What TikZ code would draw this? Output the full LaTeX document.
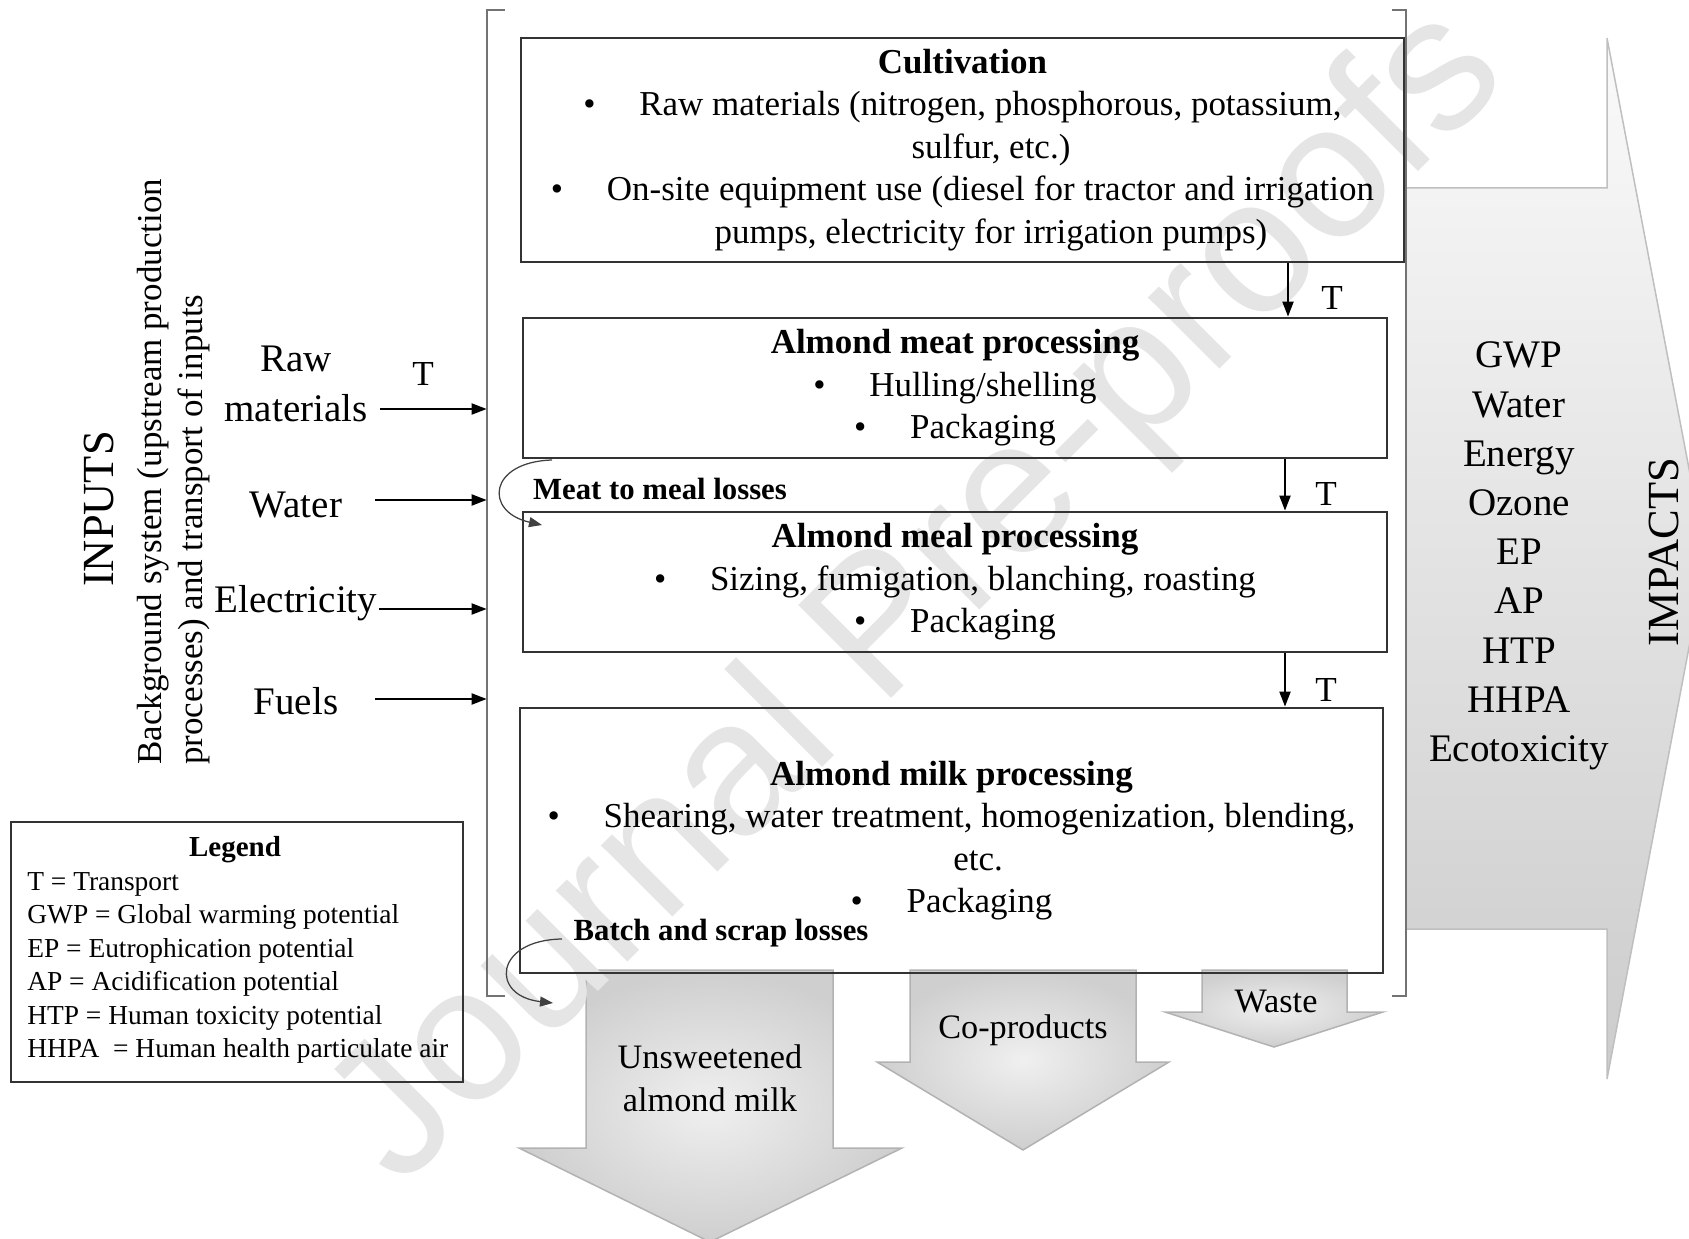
\documentclass[tikz,border=0pt]{standalone}
\usepackage{fontspec}
\setmainfont{Liberation Serif}
\newfontfamily\wmfont{Liberation Sans}
\usetikzlibrary{arrows.meta,positioning,fit}

\newcommand{\bul}{\textbullet\hspace{1.25em}}

\begin{document}
\begin{tikzpicture}[
    x=0.2mm, y=-0.2mm,
    procbox/.style={
        draw=black!80, line width=0.55mm,
        inner sep=0pt, align=center,
        font=\fontsize{19.9}{24.2}\selectfont
    },
    flow/.style={draw=black, line width=0.4mm, -{Triangle[length=3mm,width=2.2mm]}},
    lossflow/.style={draw=black!75, line width=0.25mm, -{Triangle[length=2.6mm,width=2mm]}},
    outarrow/.style={draw=black!30, line width=0.3mm, inner color=black!6, outer color=black!19},
    frame/.style={draw=black!55, line width=0.4mm},
    bigtext/.style={font=\fontsize{22.2}{28}\selectfont, align=center},
    outtext/.style={font=\fontsize{19.5}{24.4}\selectfont, align=center},
    tlabel/.style={font=\fontsize{20}{24}\selectfont},
    losslabel/.style={font=\fontsize{17.5}{21}\selectfont\bfseries},
    headtext/.style={font=\fontsize{25.3}{30}\selectfont, rotate=90},
    wm/.style={font=\wmfont\fontsize{108.7}{120}\selectfont, text=black!10, rotate=45}
]
\useasboundingbox (0,0) rectangle (1689,1239);
\clip (0,0) rectangle (1689,1239);

% impacts and outputs
\shadedraw[draw=black!25, line width=0.3mm, top color=black!2, bottom color=black!20]
    (1406,188) -- (1607,188) -- (1607,38) -- (1706,558) -- (1607,1079)
    -- (1607,929) -- (1406,929) -- cycle;
\shadedraw[outarrow] (586,970) -- (586,1148) -- (519,1148) -- (710,1242)
    -- (902,1148) -- (833,1148) -- (833,970) -- cycle;
\shadedraw[outarrow] (910,970) -- (910,1062) -- (877,1062) -- (1023,1150)
    -- (1169,1062) -- (1136,1062) -- (1136,970) -- cycle;
\shadedraw[outarrow] (1202,970) -- (1202,1012) -- (1165,1012) -- (1274,1047)
    -- (1383,1012) -- (1347,1012) -- (1347,970) -- cycle;

\node[wm] (mark) at (921,599) {Journal Pre-proofs};

% system boundary
\node[fit={(487,10) (1406,996)}, inner sep=0pt] (sys) {};
\draw[frame] ([xshift=3.6mm]sys.north west) -- (sys.north west)
    -- (sys.south west) -- ([xshift=3.6mm]sys.south west);
\draw[frame] ([xshift=-2.8mm]sys.north east) -- (sys.north east)
    -- (sys.south east) -- ([xshift=-2.8mm]sys.south east);

% processes
\node[procbox, minimum width=176.6mm, minimum height=44.8mm] (cult) at (962.5,150)
    {\textbf{Cultivation}\\
    \bul Raw materials (nitrogen, phosphorous, potassium,\\
    \hspace*{11.4mm}sulfur, etc.)\\
    \makebox[164.6mm][s]{\bul On-site equipment use (diesel for tractor and irrigation}\\
    \hspace*{11.4mm}pumps, electricity for irrigation pumps)};
\node[procbox, minimum width=172.8mm, minimum height=28mm] (meat) at (955,388)
    {\textbf{Almond meat processing}\\
    \bul Hulling/shelling\\
    \bul Packaging};
\node[procbox, minimum width=172.8mm, minimum height=28mm] (meal) at (955,582)
    {\textbf{Almond meal processing}\\
    \bul Sizing, fumigation, blanching, roasting\\
    \bul Packaging};
\node[procbox, minimum width=172.6mm, minimum height=53mm] (milk) at (951.5,840.5)
    {\textbf{Almond milk processing}\\
    \bul Shearing, water treatment, homogenization, blending,\\
    \hspace*{10.6mm}etc.\\
    \bul Packaging};

\coordinate (t1) at (1288,0);
\coordinate (t2) at (1285,0);
\draw[flow] (cult.south -| t1) -- (meat.north -| t1);
\draw[flow] (meat.south -| t2) -- (meal.north -| t2);
\draw[flow] (meal.south -| t2) -- (milk.north -| t2);
\node[tlabel] (tcult) at (1332,298) {T};
\node[tlabel] (tmeat) at (1326,494) {T};
\node[tlabel] (tmeal) at (1326,690) {T};

\node[losslabel] (mloss) at (660,489) {Meat to meal losses};
\node[losslabel] (bloss) at (721,933) {Batch and scrap losses};
\coordinate (m1) at (552,460);
\coordinate (m2) at (542,525);
\coordinate (b1) at (562,939);
\coordinate (b2) at (553,1003);
\draw[lossflow] (m1) .. controls (488,462) and (484,512) .. (m2);
\draw[lossflow] (b1) .. controls (494,940) and (490,996) .. (b2);

\node[outtext] (unsw) at (710,1078) {Unsweetened\\almond milk};
\node[outtext] (coprod) at (1023,1030) {Co-products};
\node[outtext] (waste) at (1276,1002) {Waste};

% inputs
\node[headtext] (inp) at (99,509) {INPUTS};
\node[font=\fontsize{19.9}{23.3}\selectfont, rotate=90, align=left,
    anchor=west, inner sep=0pt] (bg) at (173.5,765)
    {Background system (upstream production\\processes) and transport of inputs};
\node[bigtext] (raw) at (296,384) {Raw\\materials};
\node[bigtext] (water) at (296,505) {Water};
\node[bigtext] (elec) at (296,603) {Electricity};
\node[bigtext] (fuels) at (296,701) {Fuels};
\coordinate (rawin) at (380,409);
\coordinate (waterin) at (375,500);
\coordinate (elecin) at (379,609);
\coordinate (fuelsin) at (375,699);
\draw[flow] (rawin) -- (rawin -| sys.west);
\draw[flow] (waterin) -- (waterin -| sys.west);
\draw[flow] (elecin) -- (elecin -| sys.west);
\draw[flow] (fuelsin) -- (fuelsin -| sys.west);
\node[tlabel] (traw) at (423,374) {T};

% impacts
\node[bigtext] (imp) at (1519,556) {GWP\\Water\\Energy\\Ozone\\EP\\AP\\HTP\\HHPA\\Ecotoxicity};
\node[headtext] (impt) at (1664,552) {IMPACTS};

% legend
\node[draw=black!80, line width=0.45mm, fit={(11,822) (463,1082)}, inner sep=0pt] (leg) {};
\node[font=\fontsize{16.5}{19}\selectfont\bfseries] (legtitle) at (235,850) {Legend};
\node[font=\fontsize{15.6}{19}\selectfont, align=left, anchor=west, inner sep=0pt]
    (legbody) at (27,968) {T = Transport\\GWP = Global warming potential\\
    EP = Eutrophication potential\\AP = Acidification potential\\
    HTP = Human toxicity potential\\HHPA\ \ = Human health particulate air};
\end{tikzpicture}
\end{document}
